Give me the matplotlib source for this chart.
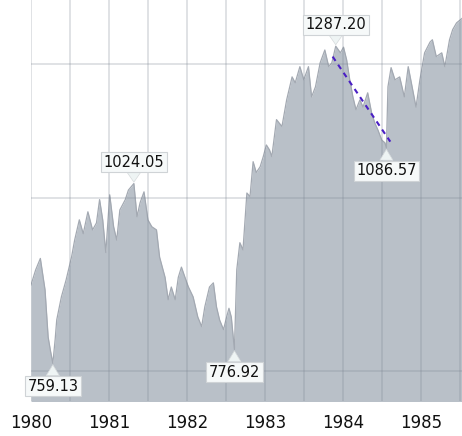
import numpy as np
import matplotlib.pyplot as plt
from matplotlib.ticker import FixedLocator, NullFormatter, NullLocator

# Dow Jones Industrial Average, 1980 - mid 1985
dates = [
    1980.00, 1980.06, 1980.12, 1980.18, 1980.22, 1980.25, 1980.28, 1980.31,
    1980.33, 1980.39, 1980.45, 1980.52, 1980.56, 1980.62, 1980.67, 1980.73,
    1980.79, 1980.84, 1980.88, 1980.92, 1980.96, 1981.01, 1981.06, 1981.10,
    1981.14, 1981.21, 1981.25, 1981.32, 1981.36, 1981.40, 1981.45, 1981.50,
    1981.55, 1981.61, 1981.65, 1981.72, 1981.76, 1981.80, 1981.85, 1981.89,
    1981.93, 1982.00, 1982.02, 1982.08, 1982.14, 1982.19, 1982.23, 1982.29,
    1982.34, 1982.38, 1982.42, 1982.47, 1982.51, 1982.54, 1982.57, 1982.61,
    1982.64, 1982.68, 1982.72, 1982.77, 1982.81, 1982.85, 1982.89, 1982.94,
    1982.98, 1983.02, 1983.06, 1983.09, 1983.15, 1983.22, 1983.28, 1983.35,
    1983.39, 1983.45, 1983.50, 1983.56, 1983.60, 1983.65, 1983.71, 1983.77,
    1983.82, 1983.86, 1983.91, 1983.97, 1984.01, 1984.05, 1984.09, 1984.13,
    1984.17, 1984.22, 1984.26, 1984.32, 1984.37, 1984.41, 1984.45, 1984.50,
    1984.54, 1984.56, 1984.58, 1984.62, 1984.67, 1984.73, 1984.79, 1984.84,
    1984.88, 1984.94, 1984.99, 1985.05, 1985.12, 1985.15, 1985.20, 1985.27,
    1985.31, 1985.37, 1985.41, 1985.46, 1985.53,
]
close = [
    865, 887, 904, 858, 793, 775, 759.13, 790,
    816, 848, 872, 906, 932, 964, 942, 977,
    948, 959, 997, 964, 913, 1005, 953, 932,
    980, 997, 1013, 1024.05, 969, 992, 1010, 964,
    953, 948, 906, 876, 844, 862, 844, 876,
    891, 868, 862, 848, 820, 807, 834, 862,
    868, 834, 816, 803, 820, 832, 820, 776.92,
    887, 928, 917, 1008, 1002, 1062, 1043, 1053,
    1071, 1092, 1083, 1071, 1139, 1126, 1177, 1223,
    1211, 1244, 1217, 1244, 1183, 1203, 1252, 1279,
    1244, 1252, 1287.20, 1273, 1285, 1258, 1217, 1183,
    1158, 1177, 1163, 1191, 1152, 1133, 1120, 1101,
    1096, 1086.57, 1203, 1242, 1217, 1223, 1183, 1244,
    1211, 1163, 1217, 1273, 1296, 1301, 1265, 1273,
    1244, 1301, 1323, 1338, 1348,
]

# labelled extremes: (date, value, text, above?)
marks_t = [1980.28, 1981.32, 1982.61, 1983.91, 1984.56]
marks_v = [759.13, 1024.05, 776.92, 1287.20, 1086.57]
marks_up = [False, True, False, True, False]

# trend line from the top to the summer 1984 low
trend_t = [1983.87, 1984.61]
trend_v = [1265, 1098]

years = [1980, 1981, 1982, 1983, 1984, 1985]
ygrid = [750, 1000, 1250]

fig = plt.figure(figsize=(4.62, 4.36), dpi=100)
ax = fig.add_axes([31 / 462, 35 / 436, 1 - 31 / 462, 1 - 35 / 436])

ax.fill_between(dates, close, 700, color="#b9c0c8", lw=0, zorder=1)
ax.plot(dates, close, color="#a3a9b2", lw=0.9, zorder=2)

ax.set_yscale("log")
ax.set_ylim(713, 1390)
ax.set_xlim(1980, 1985.53)

# grid drawn over the area, semi transparent
for v in ygrid:
    ax.axhline(v, color="#7c8694", alpha=0.26, lw=1.3, zorder=3)
for x in np.arange(1980, 1986, 0.5):
    ax.axvline(x, color="#7c8694", alpha=0.26, lw=1.3, zorder=3)

ax.plot(trend_t, trend_v, color="#4a1fc4", lw=1.5, ls=(0, (2.5, 2.2)), zorder=4)

for t, v, up in zip(marks_t, marks_v, marks_up):
    off = 10 if up else -11
    ax.annotate(f"{v:.2f}", xy=(t, v), xytext=(0, off), textcoords="offset points",
                ha="center", va="bottom" if up else "top", fontsize=10.5,
                color="#111111", zorder=6,
                bbox=dict(boxstyle="square,pad=0.18", fc="#f6f9f9", ec="#cfd3d6", lw=0.8),
                arrowprops=dict(arrowstyle="wedge,tail_width=0.9", fc="#eef4f4",
                                ec="#d6dadc", lw=0.5, shrinkA=0, shrinkB=1))

ax.yaxis.set_major_locator(NullLocator())
ax.yaxis.set_minor_locator(NullLocator())
ax.yaxis.set_major_formatter(NullFormatter())
ax.yaxis.set_minor_formatter(NullFormatter())

ax.xaxis.set_major_locator(FixedLocator(years))
ax.set_xticklabels([str(y) for y in years], fontsize=12, color="#111111")
ax.tick_params(axis="x", length=0, pad=9)
ax.xaxis.get_majorticklabels()[0].set_clip_on(False)

for s in ax.spines.values():
    s.set_visible(False)

fig.savefig("out.png", dpi=100)
